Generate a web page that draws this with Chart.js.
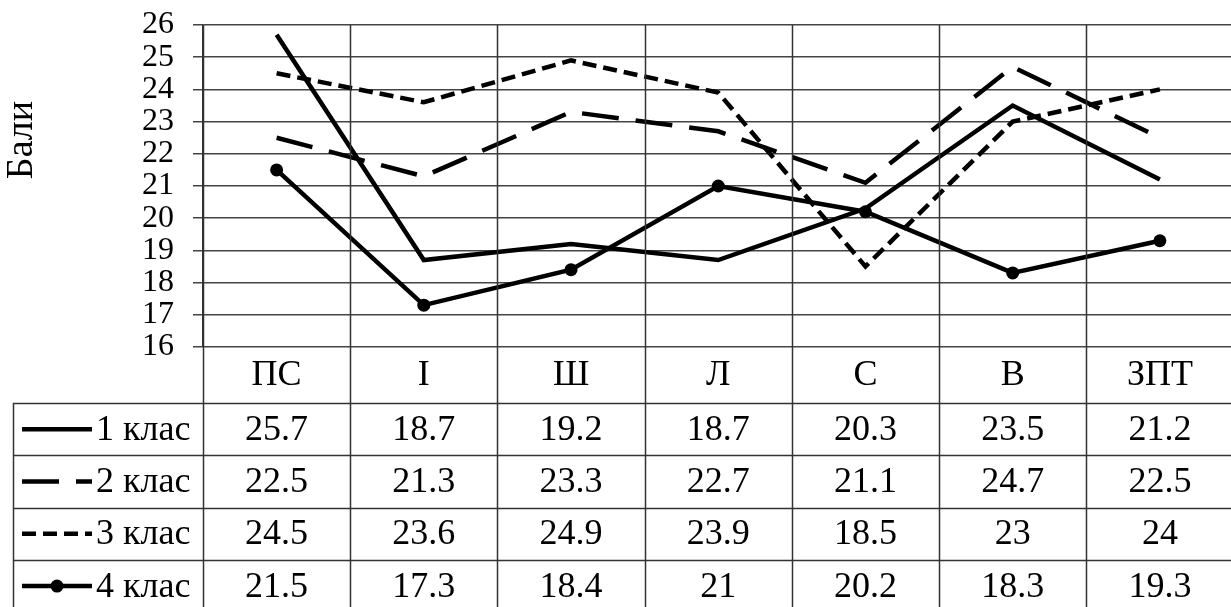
<!DOCTYPE html>
<html>
<head>
<meta charset="utf-8">
<script src="https://cdn.jsdelivr.net/npm/chart.js@4.4.1/dist/chart.umd.min.js"></script>
<style>
  html, body { margin: 0; padding: 0; background: #fff; }
  #wrap { width: 1231px; height: 607px; overflow: hidden; position: relative; }
  canvas { display: block; }
</style>
</head>
<body>
<div id="wrap"><canvas id="chart" width="1240" height="615" style="width:1240px;height:615px"></canvas></div>
<script>
// Data
const categories = ['ПС', 'І', 'Ш', 'Л', 'С', 'В', 'ЗПТ'];
const seriesNames = ['1 клас', '2 клас', '3 клас', '4 клас'];
const class1 = [25.7, 18.7, 19.2, 18.7, 20.3, 23.5, 21.2];
const class2 = [22.5, 21.3, 23.3, 22.7, 21.1, 24.7, 22.5];
const class3 = [24.5, 23.6, 24.9, 23.9, 18.5, 23, 24];
const class4 = [21.5, 17.3, 18.4, 21, 20.2, 18.3, 19.3];
const yMin = 16, yMax = 26;
const yTitle = 'Бали';

const FONT = '"Liberation Serif", "Times New Roman", serif';
const LINE_W = 4.5;

// Table geometry
const headerH = 56;
const rowH = 52.3;
const tableLeft = 13;

function makeSet(label, data, dash, radius) {
  return {
    label: label,
    data: data,
    borderColor: '#000',
    backgroundColor: '#000',
    borderWidth: LINE_W,
    borderDash: dash,
    borderCapStyle: 'butt',
    borderJoinStyle: 'miter',
    pointRadius: radius,
    pointHoverRadius: radius,
    pointBackgroundColor: '#000',
    pointBorderWidth: 0,
    tension: 0,
    fill: false
  };
}

const dataTable = {
  id: 'dataTable',
  afterDraw(chart) {
    const ctx = chart.ctx;
    const xs = chart.scales.x;
    const area = chart.chartArea;
    const step = xs.getPixelForValue(1) - xs.getPixelForValue(0);
    const firstEdge = xs.getPixelForValue(0) - step / 2;
    const headTop = area.bottom;
    const bodyTop = headTop + headerH;
    const bottom = bodyTop + rowH * seriesNames.length;
    const right = chart.width;

    ctx.save();
    // vertical column lines
    ctx.strokeStyle = '#333';
    ctx.lineWidth = 1.5;
    for (let i = 0; i <= categories.length; i++) {
      const x = Math.round(firstEdge + i * step) + 0.5;
      ctx.beginPath();
      ctx.moveTo(x, area.top);
      ctx.lineTo(x, bottom);
      ctx.stroke();
    }
    // table left border
    ctx.beginPath();
    ctx.moveTo(tableLeft + 0.5, bodyTop);
    ctx.lineTo(tableLeft + 0.5, bottom);
    ctx.stroke();
    // horizontal row lines
    for (let r = 0; r <= seriesNames.length; r++) {
      const y = Math.round(bodyTop + r * rowH) + 0.5;
      ctx.beginPath();
      ctx.moveTo(tableLeft, y);
      ctx.lineTo(right, y);
      ctx.stroke();
    }

    // category labels
    ctx.fillStyle = '#000';
    ctx.textAlign = 'center';
    ctx.textBaseline = 'middle';
    ctx.font = '36px ' + FONT;
    categories.forEach((c, i) => {
      ctx.fillText(c, xs.getPixelForValue(i), headTop + headerH / 2 + 1);
    });

    // values + legend keys
    chart.data.datasets.forEach((ds, r) => {
      const cy = bodyTop + r * rowH + rowH / 2;
      ds.data.forEach((v, i) => {
        ctx.textAlign = 'center';
        ctx.fillText(String(v), xs.getPixelForValue(i), cy + 1);
      });
      // key line
      ctx.save();
      ctx.strokeStyle = '#000';
      ctx.lineWidth = LINE_W;
      ctx.setLineDash(ds.borderDash || []);
      ctx.beginPath();
      ctx.moveTo(22, cy);
      ctx.lineTo(92, cy);
      ctx.stroke();
      if (ds.pointRadius > 0) {
        ctx.beginPath();
        ctx.arc(57, cy, ds.pointRadius, 0, Math.PI * 2);
        ctx.fill();
      }
      ctx.restore();
      ctx.textAlign = 'left';
      ctx.fillText(ds.label, 96, cy + 1);
    });

    // axis title
    ctx.save();
    ctx.translate(22, 140);
    ctx.rotate(-Math.PI / 2);
    ctx.textAlign = 'center';
    ctx.textBaseline = 'middle';
    ctx.font = '38px ' + FONT;
    ctx.fillText(yTitle, 0, 0);
    ctx.restore();
    ctx.restore();
  }
};

const chart = new Chart(document.getElementById('chart'), {
  type: 'line',
  data: {
    labels: categories,
    datasets: [
      makeSet(seriesNames[0], class1, [], 0),
      makeSet(seriesNames[1], class2, [37, 17], 0),
      makeSet(seriesNames[2], class3, [14, 7], 0),
      makeSet(seriesNames[3], class4, [], 6.5)
    ]
  },
  options: {
    responsive: false,
    animation: false,
    devicePixelRatio: 1,
    layout: { padding: { top: 25, left: 0, right: 4, bottom: 0 } },
    plugins: {
      legend: { display: false },
      tooltip: { enabled: false },
      title: { display: false }
    },
    scales: {
      x: {
        type: 'category',
        offset: true,
        grid: { display: false },
        border: { display: false },
        ticks: { display: false },
        afterFit(scale) { scale.height = 615 - 347; }
      },
      y: {
        min: yMin,
        max: yMax,
        ticks: {
          stepSize: 1,
          autoSkip: false,
          color: '#000',
          padding: 19,
          font: { family: FONT, size: 32, lineHeight: 1 }
        },
        grid: { color: '#444', lineWidth: 1.5, tickLength: 10, drawTicks: true },
        border: { display: true, color: '#333', width: 1.5 },
        afterFit(scale) {
          scale.width = 203;
          scale.paddingTop = 0;
          scale.paddingBottom = 0;
        }
      }
    }
  },
  plugins: [dataTable]
});
</script>
</body>
</html>
